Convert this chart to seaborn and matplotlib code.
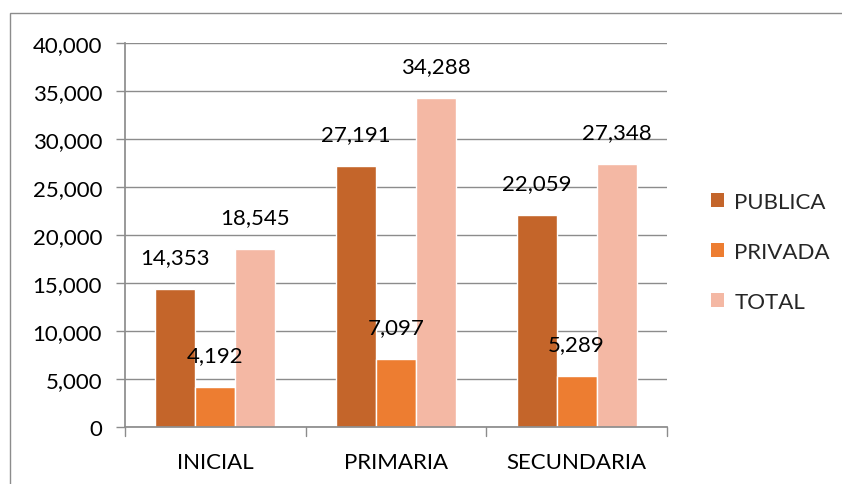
import matplotlib
matplotlib.use("Agg")
import matplotlib.pyplot as plt
import seaborn as sns
import pandas as pd
from matplotlib.patches import Rectangle, Patch
from matplotlib.ticker import FuncFormatter

categories = ["INICIAL", "PRIMARIA", "SECUNDARIA"]
series = ["PUBLICA", "PRIVADA", "TOTAL"]
publica = [14353, 27191, 22059]
privada = [4192, 7097, 5289]
total = [18545, 34288, 27348]
colors = ["#C4652A", "#ED7D31", "#F4B8A4"]

rows = []
for s, vals in zip(series, [publica, privada, total]):
    for c, v in zip(categories, vals):
        rows.append({"cat": c, "serie": s, "val": v})
df = pd.DataFrame(rows)

sns.set_theme(style="white")
plt.rcParams["font.family"] = ["Lato", "DejaVu Sans"]

FS = 16

fig = plt.figure(figsize=(8.42, 4.85), dpi=100)
ax = fig.add_axes([125/842, 1-428/485, (667-125)/842, (428-44)/485])

sns.barplot(data=df, x="cat", y="val", hue="serie", palette=colors,
            saturation=1, width=0.664, ax=ax, legend=False, errorbar=None)

ax.set_ylim(0, 40000)
ax.set_xlim(-0.5, 2.5)
ax.set_yticks(range(0, 40001, 5000))
ax.yaxis.set_major_formatter(FuncFormatter(lambda v, p: f"{int(v):,}"))
ax.grid(axis="y", color="#8C8C8C", linewidth=1)
ax.set_axisbelow(True)
ax.set_xlabel("")
ax.set_ylabel("")
for sp in ["top", "right"]:
    ax.spines[sp].set_visible(False)
ax.spines["left"].set_color("#8C8C8C")
ax.spines["bottom"].set_color("#8C8C8C")
ax.tick_params(axis="y", left=True, length=6.5, width=1, color="#8C8C8C",
               labelsize=FS, pad=10, labelcolor="black")
ax.set_xticks([0, 1, 2])
ax.set_xticklabels(categories)
ax.tick_params(axis="x", bottom=False, labelsize=FS, pad=12, labelcolor="black")
# boundary ticks on x axis
for xb in [-0.5, 0.5, 1.5, 2.5]:
    ax.plot([xb, xb], [0, -900], color="#8C8C8C", linewidth=1, clip_on=False)

for cont in ax.containers:
    for bar in cont:
        h = bar.get_height()
        ax.annotate(f"{int(h):,}", (bar.get_x() + bar.get_width()/2, h),
                    xytext=(0, 23), textcoords="offset points",
                    ha="center", va="center", fontsize=FS, color="black")

handles = [Patch(facecolor=c, edgecolor="none") for c in colors]
leg = fig.legend(handles, series, loc="center left",
                 bbox_to_anchor=(691/842, 1-253/485), frameon=False,
                 fontsize=FS, handlelength=0.6, handleheight=0.6,
                 handletextpad=0.45, labelspacing=1.35)

fig.patches.append(Rectangle((10/842, -0.05), 1.2, 1.05 - 14/485,
                             transform=fig.transFigure, fill=False,
                             edgecolor="#8C8C8C", linewidth=1))

fig.savefig("out.png", dpi=100)
